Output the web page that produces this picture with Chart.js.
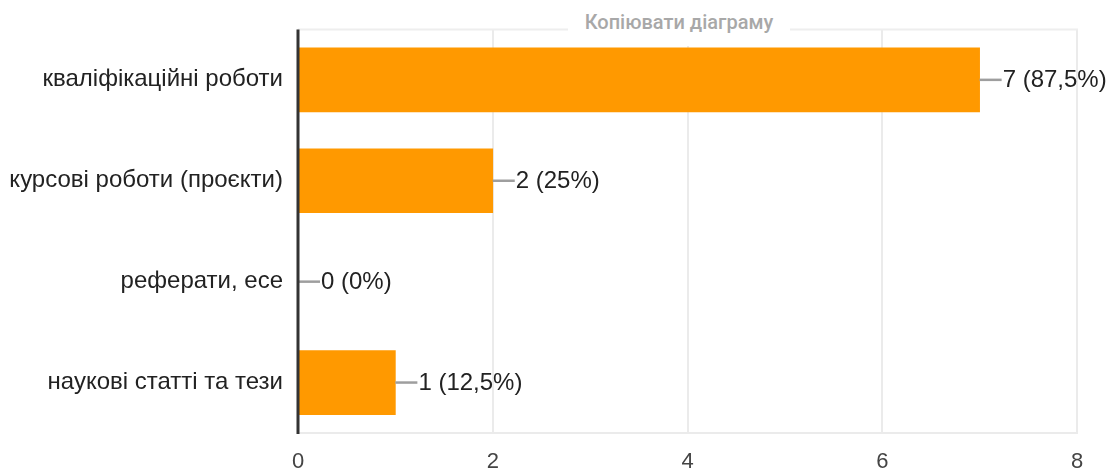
<!DOCTYPE html>
<html>
<head>
<meta charset="utf-8">
<script src="https://cdn.jsdelivr.net/npm/chart.js@4.4.1/dist/chart.umd.min.js"></script>
<style>
    html, body { margin: 0; padding: 0; background: #fff; }
    #wrap { position: relative; width: 1109px; height: 473px; }
    #copyBtn {
        position: absolute; left: 568px; top: 0; width: 222px; height: 46px;
        background: #fff; color: #a8a8a8; font: 500 20px Roboto, sans-serif;
        display: flex; align-items: center; justify-content: center;
        padding-bottom: 3px; box-sizing: border-box;
    }
</style>
</head>
<body>
<div id="wrap">
    <canvas id="chart" width="1109" height="473"></canvas>
    <div id="copyBtn">Копіювати діаграму</div>
</div>
<script>
// дані діаграми
var categories = ['кваліфікаційні роботи', 'курсові роботи (проєкти)', 'реферати, есе', 'наукові статті та тези'];
var counts = [7, 2, 0, 1];
var percents = ['87,5%', '25%', '0%', '12,5%'];
var xMin = 0, xMax = 8, xStep = 2;

var labelFont = '"Liberation Sans", Arial, sans-serif';

// підписи значень з лінією-виноскою
var valueLabels = {
    id: 'valueLabels',
    afterDatasetsDraw: function(chart) {
        var ctx = chart.ctx;
        var meta = chart.getDatasetMeta(0);
        var xs = chart.scales.x;
        var area = chart.chartArea;
        ctx.save();
        meta.data.forEach(function(bar, i) {
            var x = bar.x, y = bar.y;
            ctx.strokeStyle = '#9e9e9e';
            ctx.lineWidth = 2.5;
            ctx.beginPath();
            ctx.moveTo(x, y);
            ctx.lineTo(x + 22, y);
            ctx.stroke();
            ctx.fillStyle = '#222';
            ctx.font = '24px ' + labelFont;
            ctx.textAlign = 'left';
            ctx.textBaseline = 'middle';
            ctx.fillText(counts[i] + ' (' + percents[i] + ')', x + 23, y + 1);
        });
        // темна вісь на нулі
        var x0 = xs.getPixelForValue(0);
        ctx.strokeStyle = '#333';
        ctx.lineWidth = 3;
        ctx.beginPath();
        ctx.moveTo(x0, area.top);
        ctx.lineTo(x0, area.bottom + 1);
        ctx.stroke();
        ctx.restore();
    },
    beforeDatasetsDraw: function(chart) {
        var ctx = chart.ctx;
        var area = chart.chartArea;
        ctx.save();
        ctx.strokeStyle = '#eeeeee';
        ctx.lineWidth = 2;
        ctx.beginPath();
        ctx.moveTo(area.left, area.top);
        ctx.lineTo(area.right + 1, area.top);
        ctx.stroke();
        ctx.restore();
    }
};

new Chart(document.getElementById('chart'), {
    type: 'bar',
    data: {
        labels: categories,
        datasets: [{
            data: counts,
            backgroundColor: '#ff9900',
            borderWidth: 0,
            barThickness: 64
        }]
    },
    options: {
        indexAxis: 'y',
        responsive: false,
        animation: false,
        layout: { padding: { top: 26, right: 32, left: 0, bottom: 0 } },
        plugins: { legend: { display: false }, tooltip: { enabled: false } },
        scales: {
            x: {
                min: xMin, max: xMax,
                ticks: { stepSize: xStep, color: '#444', font: { family: labelFont, size: 22 }, padding: 16 },
                grid: { color: '#ebebeb', lineWidth: 2, drawTicks: false },
                border: { color: '#ebebeb', width: 2 },
                afterFit: function(scale) { scale.height = 40; }
            },
            y: {
                ticks: { color: '#222', font: { family: labelFont, size: 24 }, padding: 15 },
                grid: { display: false, drawTicks: false },
                border: { display: false },
                afterFit: function(scale) { scale.width = 298; }
            }
        }
    },
    plugins: [valueLabels]
});
</script>
</body>
</html>
